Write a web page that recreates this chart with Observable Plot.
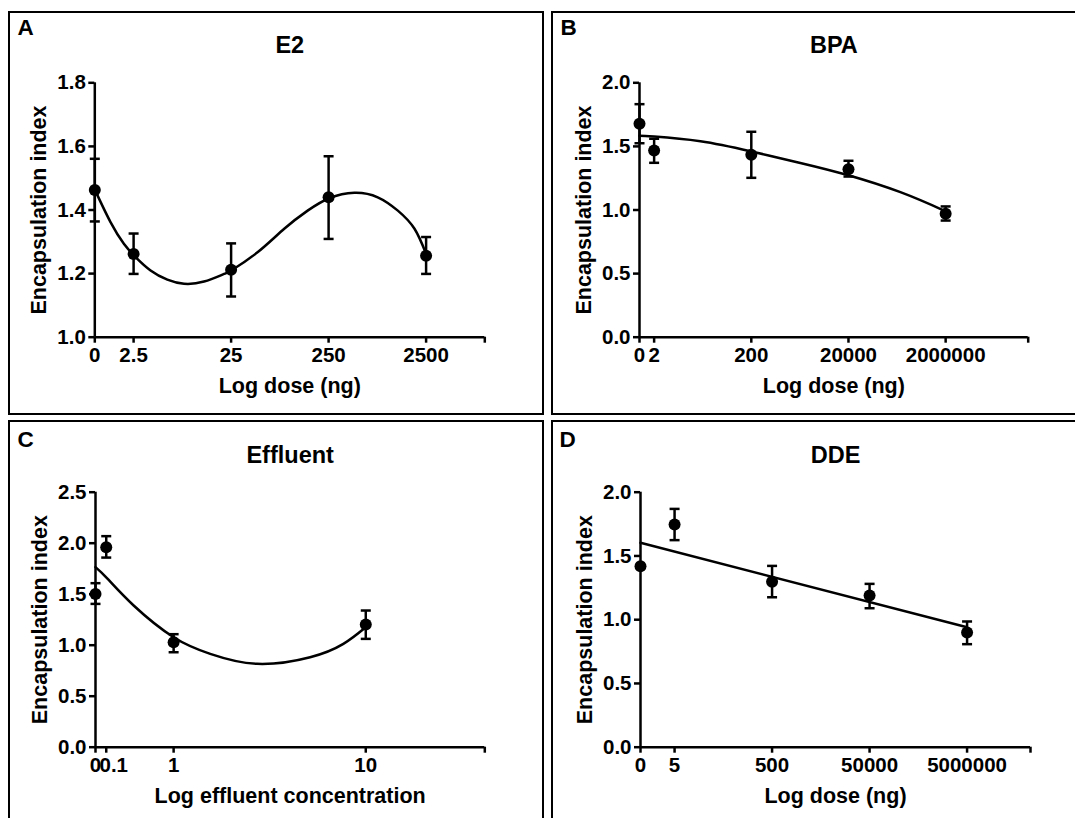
<!DOCTYPE html>
<html>
<head>
<meta charset="utf-8">
<script src="https://cdn.jsdelivr.net/npm/d3@7"></script>
<script src="https://cdn.jsdelivr.net/npm/@observablehq/plot@0.6"></script>
<style>
html, body { margin: 0; padding: 0; background: #fff; }
#page { position: relative; width: 1075px; height: 818px; overflow: hidden; background: #fff; }
.panel { position: absolute; }
.panel svg { max-width: none; display: block; }
.box { position: absolute; border: 2px solid #000; box-sizing: border-box; pointer-events: none; }
</style>
</head>
<body>
<div id="page"></div>
<script>
// ---------- Panel A : E2 ----------
const e2Dose  = [0, 2.5, 25, 250, 2500];
const e2Mean  = [1.463, 1.262, 1.212, 1.440, 1.256];
const e2Upper = [1.561, 1.326, 1.295, 1.569, 1.315];
const e2Lower = [1.364, 1.199, 1.128, 1.309, 1.199];
const e2FitX  = [0, 0.161, 0.298, 0.418, 0.572, 0.744, 0.915, 1.12, 1.326, 1.412, 1.669, 1.943, 2.183, 2.405, 2.662, 2.902, 3.108, 3.279, 3.398];
const e2FitY  = [1.464, 1.362, 1.294, 1.252, 1.210, 1.181, 1.168, 1.175, 1.199, 1.212, 1.267, 1.341, 1.398, 1.437, 1.454, 1.440, 1.398, 1.341, 1.262];
const e2YTicks = [1.0, 1.2, 1.4, 1.6, 1.8];

// ---------- Panel B : BPA ----------
const bpaDose  = [0, 2, 200, 20000, 2000000];
const bpaMean  = [1.678, 1.468, 1.434, 1.321, 0.970];
const bpaUpper = [1.832, 1.560, 1.615, 1.387, 1.028];
const bpaLower = [1.525, 1.371, 1.253, 1.263, 0.917];
const bpaFitX  = [0, 0.301, 1.254, 2.28, 3.31, 4.28, 5.37, 6.301];
const bpaFitY  = [1.583, 1.577, 1.540, 1.462, 1.370, 1.275, 1.140, 0.990];
const bpaYTicks = [0.0, 0.5, 1.0, 1.5, 2.0];

// ---------- Panel C : Effluent ----------
const effConc  = [0, 0.1, 1, 10];
const effMean  = [1.503, 1.961, 1.029, 1.203];
const effUpper = [1.608, 2.069, 1.108, 1.340];
const effLower = [1.405, 1.859, 0.931, 1.062];
const effFitX  = [0, 0.045, 0.147, 0.301, 0.442, 0.622, 0.827, 0.955, 1.041];
const effFitY  = [1.765, 1.655, 1.389, 1.078, 0.915, 0.817, 0.882, 1.013, 1.176];
const effYTicks = [0.0, 0.5, 1.0, 1.5, 2.0, 2.5];

// ---------- Panel D : DDE ----------
const ddeDose  = [0, 5, 500, 50000, 5000000];
const ddeMean  = [1.420, 1.746, 1.297, 1.190, 0.899];
const ddeUpper = [1.420, 1.869, 1.422, 1.281, 0.986];
const ddeLower = [1.420, 1.624, 1.176, 1.090, 0.808];
const ddeFitX  = [0, 6.699];
const ddeFitY  = [1.603, 0.941];
const ddeYTicks = [0.0, 0.5, 1.0, 1.5, 2.0];

const FONT = "'Liberation Sans', Arial, Helvetica, sans-serif";
const logPos = d => d === 0 ? 0 : Math.log10(d);       // 0 plotted at the axis origin
const logPos1 = c => Math.log10(c + 1);

const capSymbol = {
  draw(ctx, size) {
    const r = Math.sqrt(size / Math.PI);
    ctx.moveTo(-r, 0);
    ctx.lineTo(r, 0);
  }
};

const panels = [
  { letter: "A", title: "E2", xlabel: "Log dose (ng)",
    svg: [0, 0, 545, 415], frame: [94.3, 82.3, 484.3, 336.7],
    letterPos: [17, 34], titleY: 52,
    xs: e2Dose, toPos: logPos, mean: e2Mean, upper: e2Upper, lower: e2Lower,
    fitX: e2FitX, fitY: e2FitY, xDomain: [0, 4], yDomain: [1.0, 1.8], yTicks: e2YTicks },
  { letter: "B", title: "BPA", xlabel: "Log dose (ng)",
    svg: [545, 0, 530, 415], frame: [639, 82.3, 1027.7, 336.7],
    letterPos: [560, 34], titleY: 52,
    xs: bpaDose, toPos: logPos, mean: bpaMean, upper: bpaUpper, lower: bpaLower,
    fitX: bpaFitX, fitY: bpaFitY, xDomain: [0, 8], yDomain: [0, 2], yTicks: bpaYTicks },
  { letter: "C", title: "Effluent", xlabel: "Log effluent concentration",
    svg: [0, 415, 545, 403], frame: [95, 491.7, 484.3, 746.7],
    letterPos: [17, 446], titleY: 462,
    xs: effConc, toPos: logPos1, mean: effMean, upper: effUpper, lower: effLower,
    fitX: effFitX, fitY: effFitY, xDomain: [0, 1.5], yDomain: [0, 2.5], yTicks: effYTicks,
    shiftLabel: {index: 1, dx: 7.5} },
  { letter: "D", title: "DDE", xlabel: "Log dose (ng)",
    svg: [545, 415, 530, 403], frame: [640, 491.7, 1030, 746.7],
    letterPos: [559, 446], titleY: 462,
    xs: ddeDose, toPos: logPos, mean: ddeMean, upper: ddeUpper, lower: ddeLower,
    fitX: ddeFitX, fitY: ddeFitY, xDomain: [0, 8], yDomain: [0, 2], yTicks: ddeYTicks }
];

const page = document.getElementById("page");
const TICK_FS = 20.5;

for (const p of panels) {
  const [sx, sy, sw, sh] = p.svg;
  const [fx0, fy0, fx1, fy1] = p.frame;
  const data = p.xs.map((d, i) => ({pos: p.toPos(d), mean: p.mean[i], hi: p.upper[i], lo: p.lower[i]}));
  const fit = p.fitX.map((x, i) => ({x, y: p.fitY[i]}));
  const tickPos = [...p.xs.map(p.toPos), p.xDomain[1]];
  const tickLab = [...p.xs.map(String), ""];
  const shift = p.shiftLabel;
  const mainFormat = d => {
    const i = tickPos.indexOf(d);
    if (i < 0) return "";
    if (shift && i === shift.index) return "";
    return tickLab[i];
  };

  const marks = [
    Plot.ruleX(data, {x: "pos", y1: "lo", y2: "hi", stroke: "#000", strokeWidth: 2.5}),
    Plot.dot(data, {x: "pos", y: "hi", symbol: capSymbol, r: 5, stroke: "#000", strokeWidth: 2.5, fill: "none"}),
    Plot.dot(data, {x: "pos", y: "lo", symbol: capSymbol, r: 5, stroke: "#000", strokeWidth: 2.5, fill: "none"}),
    Plot.line(fit, {x: "x", y: "y", curve: "natural", stroke: "#000", strokeWidth: 2.5}),
    Plot.dot(data, {x: "pos", y: "mean", r: 6, fill: "#000", stroke: "none"}),
    Plot.axisY({ticks: p.yTicks, tickFormat: d => d.toFixed(1), tickSize: 6, tickPadding: 3,
                strokeWidth: 2.5, label: null, fontSize: TICK_FS, fontWeight: "bold"}),
    Plot.axisX({ticks: tickPos, tickFormat: mainFormat, tickSize: 6, tickPadding: 4.5,
                strokeWidth: 2.5, label: null, fontSize: TICK_FS, fontWeight: "bold"}),
    Plot.ruleY([p.yDomain[0]], {stroke: "#000", strokeWidth: 2.5}),
    Plot.ruleX([p.xDomain[0]], {stroke: "#000", strokeWidth: 2.5}),
    Plot.text([p.letter], {text: d => d, frameAnchor: "top-left",
      dx: p.letterPos[0] - fx0, dy: p.letterPos[1] - fy0,
      textAnchor: "start", lineAnchor: "bottom", fontSize: 22.5, fontWeight: "bold", fill: "#000"}),
    Plot.text([p.title], {text: d => d, frameAnchor: "top", dy: p.titleY - fy0,
      textAnchor: "middle", lineAnchor: "bottom", fontSize: 23.5, fontWeight: "bold", fill: "#000"}),
    Plot.text([p.xlabel], {text: d => d, frameAnchor: "bottom", dy: 55.5,
      textAnchor: "middle", lineAnchor: "bottom", fontSize: 21.5, fontWeight: "bold", fill: "#000"}),
    Plot.text(["Encapsulation index"], {text: d => d, frameAnchor: "left", dx: -49, rotate: -90,
      textAnchor: "middle", lineAnchor: "bottom", fontSize: 21.5, fontWeight: "bold", fill: "#000"})
  ];
  if (shift) {
    const sp = tickPos[shift.index];
    marks.push(Plot.axisX({ticks: [sp], tickFormat: () => tickLab[shift.index], tickSize: 0,
      tickPadding: 10.5, dx: shift.dx, label: null, fontSize: TICK_FS, fontWeight: "bold"}));
  }

  const chart = Plot.plot({
    width: sw, height: sh,
    marginLeft: fx0 - sx, marginRight: sx + sw - fx1,
    marginTop: fy0 - sy, marginBottom: sy + sh - fy1,
    x: {domain: p.xDomain},
    y: {domain: p.yDomain},
    style: {fontFamily: FONT, fontWeight: "bold", fontSize: "20px", color: "#000", background: "transparent"},
    marks
  });
  const holder = document.createElement("div");
  holder.className = "panel";
  holder.style.left = sx + "px";
  holder.style.top = sy + "px";
  holder.appendChild(chart);
  page.appendChild(holder);
}

// panel borders
const boxes = [
  [8, 11, 536, 404],
  [551, 11, 600, 404],
  [8, 420, 536, 420],
  [551, 420, 600, 420]
];
for (const [l, t, w, h] of boxes) {
  const b = document.createElement("div");
  b.className = "box";
  b.style.left = l + "px";
  b.style.top = t + "px";
  b.style.width = w + "px";
  b.style.height = h + "px";
  page.appendChild(b);
}
</script>
</body>
</html>
